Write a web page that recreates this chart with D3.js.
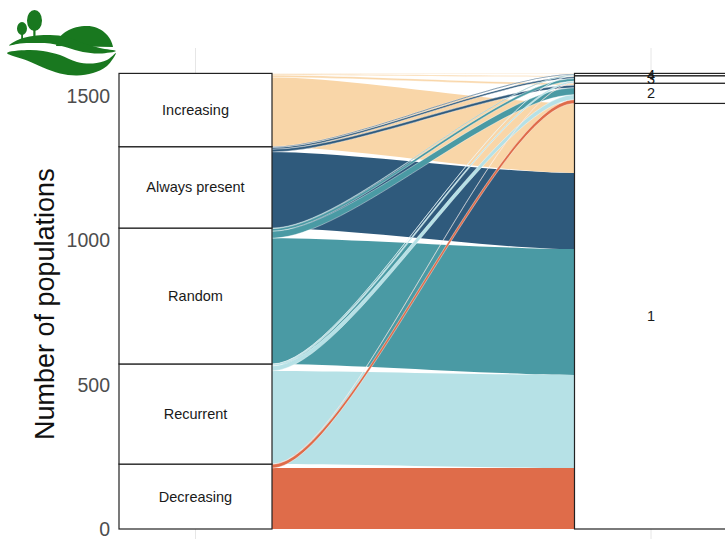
<!DOCTYPE html>
<html>
<head>
<meta charset="utf-8">
<script src="https://cdn.jsdelivr.net/npm/d3@7"></script>
<style>
  html, body { margin: 0; padding: 0; background: #fff; }
  svg { display: block; font-family: "Liberation Sans", Arial, sans-serif; }
</style>
</head>
<body>
<svg id="chart" width="725" height="539"></svg>
<script>
// Temporal trend of each population (left axis, bottom to top)
const trends = ["Decreasing", "Recurrent", "Random", "Always present", "Increasing"];
// Cluster membership (right axis, bottom to top)
const clusters = ["1", "2", "3", "4"];
// Number of populations going from each trend to each cluster
const toCluster1 = [211, 323, 436, 264, 241];
const toCluster2 = [13, 17, 24, 9, 7];
const toCluster3 = [1, 6, 9, 6, 4];
const toCluster4 = [0, 1, 2, 3, 2];
const trendColors = ["#df6c4a", "#b6e1e6", "#4a9aa4", "#2f5a7c", "#f9d6a8"];
const yTicks = [0, 500, 1000, 1500];
const axes = ["Trend", "Cluster"];

const counts = [toCluster1, toCluster2, toCluster3, toCluster4];

const svg = d3.select("#chart");
const y = d3.scaleLinear().domain([0, 1500]).range([529, 96.2]);
const x = d3.scalePoint().domain(axes).range([195.5, 651]);
const stratumW = 153;
const xL = x("Trend") + stratumW / 2;
const xR = x("Cluster") - stratumW / 2;

// vertical panel grid at each axis
svg.append("g").selectAll("line").data(axes).join("line")
  .attr("x1", d => x(d)).attr("x2", d => x(d))
  .attr("y1", 48).attr("y2", 539)
  .attr("stroke", "#e6e6e6").attr("stroke-width", 1);

// lode positions: left stacks trends with clusters inside, right stacks clusters with trends inside
const flows = [];
let cumL = 0;
trends.forEach((t, ti) => {
  clusters.forEach((c, ci) => {
    const n = counts[ci][ti];
    flows.push({ trend: ti, cluster: ci, n, l0: cumL, l1: cumL + n });
    cumL += n;
  });
});
let cumR = 0;
clusters.forEach((c, ci) => {
  trends.forEach((t, ti) => {
    const f = flows.find(d => d.trend === ti && d.cluster === ci);
    f.r0 = cumR; f.r1 = cumR + f.n;
    cumR += f.n;
  });
});

const leftTotals = trends.map((t, ti) => d3.sum(counts, arr => arr[ti]));
const rightTotals = counts.map(arr => d3.sum(arr));

function ribbon(f) {
  const dx = xR - xL;
  const a = xL + dx * 0.25, b = xL + dx * 0.75;
  const lt = y(f.l1), lb = y(f.l0), rt = y(f.r1), rb = y(f.r0);
  return `M${xL},${lt}C${a},${lt} ${b},${rt} ${xR},${rt}` +
         `L${xR},${rb}C${b},${rb} ${a},${lb} ${xL},${lb}Z`;
}

// large flows first, then the small ones drawn over them
const big = flows.filter(f => f.cluster === 0);
const small = flows.filter(f => f.cluster > 0 && f.n > 0)
  .sort((p, q) => d3.descending(p.trend, q.trend) || d3.descending(p.cluster, q.cluster));

svg.append("g").selectAll("path").data(big).join("path")
  .attr("d", ribbon).attr("fill", f => trendColors[f.trend]);
svg.append("g").selectAll("path").data(small).join("path")
  .attr("d", ribbon).attr("fill", f => trendColors[f.trend])
  .attr("stroke", "#fff").attr("stroke-width", 0.5).attr("stroke-opacity", 0.8);

// strata boxes
function strata(names, totals, cx) {
  let acc = 0;
  const rows = names.map((nm, i) => { const r = { nm, lo: acc, hi: acc + totals[i] }; acc += totals[i]; return r; });
  const g = svg.append("g");
  g.selectAll("rect").data(rows).join("rect")
    .attr("x", cx - stratumW / 2).attr("width", stratumW)
    .attr("y", d => y(d.hi)).attr("height", d => y(d.lo) - y(d.hi))
    .attr("fill", "#fff").attr("stroke", "#222").attr("stroke-width", 1.2);
  g.selectAll("text").data(rows).join("text")
    .attr("x", cx).attr("y", d => (y(d.hi) + y(d.lo)) / 2)
    .attr("text-anchor", "middle").attr("dominant-baseline", "central")
    .attr("font-size", 14.5).attr("fill", "#1a1a1a")
    .text(d => d.nm);
}
strata(trends, leftTotals, x("Trend"));
strata(clusters, rightTotals, x("Cluster"));

// y axis labels
svg.append("g").selectAll("text").data(yTicks).join("text")
  .attr("x", 110).attr("y", d => y(d))
  .attr("text-anchor", "end").attr("dominant-baseline", "central")
  .attr("font-size", 19.5).attr("fill", "#4d4d4d")
  .text(d => d);

svg.append("text")
  .attr("transform", `translate(54,${(y(0) + y(1579)) / 2 + 3}) rotate(-90)`)
  .attr("text-anchor", "middle")
  .attr("font-size", 27).attr("fill", "#111")
  .text("Number of populations");

// logo: hill, two trees and two swooshes
const logo = svg.append("g").attr("fill", "#19781f");
const closed = d3.line().curve(d3.curveCatmullRomClosed.alpha(0.5));
logo.append("path").attr("d", "M56,46 C58,33 72,26 87,26 C101,26 111,36 113,47 Z");
logo.append("ellipse").attr("cx", 34.5).attr("cy", 20.5).attr("rx", 7.5).attr("ry", 10.5);
logo.append("ellipse").attr("cx", 22).attr("cy", 28.5).attr("rx", 5).attr("ry", 6.5);
logo.append("rect").attr("x", 33.3).attr("y", 24).attr("width", 2.2).attr("height", 13);
logo.append("rect").attr("x", 21.2).attr("y", 30).attr("width", 1.8).attr("height", 9);
logo.append("path").attr("d", closed([
  [9, 45.5], [20, 39], [33, 36], [50, 35], [67, 37], [83, 43], [100, 48], [116, 51],
  [100, 53.5], [83, 52], [67, 47.5], [50, 43.5], [33, 43], [20, 43.5]
]));
logo.append("path").attr("d", closed([
  [7, 53], [27, 50], [43, 51], [60, 55], [77, 62], [93, 63.5], [107, 60], [116, 53],
  [107, 66], [93, 73], [77, 75.5], [60, 73.5], [43, 67.5], [27, 60.5]
]));
</script>
</body>
</html>
